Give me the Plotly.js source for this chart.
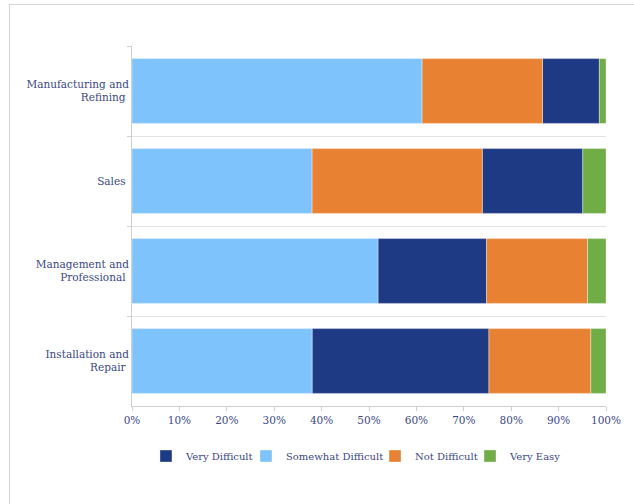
<!DOCTYPE html>
<html>
<head>
<meta charset="utf-8">
<script src="https://cdn.plot.ly/plotly-3.0.1.min.js"></script>
<style>
  html, body { margin: 0; padding: 0; background: #fff; }
  #wrap { position: relative; width: 634px; height: 504px; overflow: hidden; }
  #frame { position: absolute; left: 9px; top: 4px; width: 700px; height: 600px;
           border-left: 1px solid #d6d6d6; border-top: 1px solid #d6d6d6; }
  #chart { position: absolute; left: 0; top: 0; width: 634px; height: 504px; }
</style>
</head>
<body>
<div id="wrap"><div id="frame"></div><div id="chart"></div></div>
<script>
const categories = ['Manufacturing and<br>Refining', 'Sales', 'Management and<br>Professional', 'Installation and<br>Repair'];
const seriesNames = ['Very Difficult', 'Somewhat Difficult', 'Not Difficult', 'Very Easy'];
const veryDifficult = [12.0, 21.2, 22.9, 37.3];
const somewhatDifficult = [61.2, 38.0, 51.9, 38.0];
const notDifficult = [25.4, 35.9, 21.3, 21.5];
const veryEasy = [1.4, 4.9, 3.9, 3.2];
const xTickVals = [0, 10, 20, 30, 40, 50, 60, 70, 80, 90, 100];
const xTickLabels = ['0%', '10%', '20%', '30%', '40%', '50%', '60%', '70%', '80%', '90%', '100%'];

const seriesValues = [veryDifficult, somewhatDifficult, notDifficult, veryEasy];
const colors = ['#1f3a85', '#7fc3fd', '#e88232', '#70ad47'];

// Within each bar, segments are stacked largest first.
const bases = seriesValues.map(() => categories.map(() => 0));
categories.forEach((c, ci) => {
  const order = seriesValues.map((s, si) => si).sort((a, b) => seriesValues[b][ci] - seriesValues[a][ci]);
  let acc = 0;
  order.forEach(si => { bases[si][ci] = acc; acc += seriesValues[si][ci]; });
});

const textColor = '#3a4888';
const font = { family: 'DejaVu Serif, serif', size: 10.5, color: textColor };
const legendFont = { family: 'DejaVu Serif, serif', size: 10, color: textColor };

const legendIds = ['legend', 'legend2', 'legend3', 'legend4'];
const legendX = [0.0295, 0.2405, 0.5127, 0.7131];

const traces = seriesValues.map((vals, si) => ({
  type: 'bar',
  orientation: 'h',
  name: seriesNames[si],
  legend: legendIds[si],
  y: categories,
  x: vals,
  base: bases[si],
  marker: { color: colors[si], line: { color: 'rgba(255,255,255,0.45)', width: 0.8 } },
  hoverinfo: 'name+x'
}));

const layout = {
  width: 634, height: 504,
  paper_bgcolor: 'rgba(0,0,0,0)', plot_bgcolor: 'rgba(0,0,0,0)',
  margin: { l: 132, r: 28, t: 46, b: 98 },
  font: font,
  barmode: 'overlay',
  bargap: 0.28,
  showlegend: true,
  xaxis: {
    range: [0, 100], tickvals: xTickVals, ticktext: xTickLabels,
    showgrid: false, zeroline: false,
    showline: true, linecolor: '#cfcfcf', linewidth: 1,
    ticks: 'outside', ticklen: 4, tickcolor: '#cfcfcf',
    tickfont: font, fixedrange: true
  },
  yaxis: {
    type: 'category', autorange: 'reversed',
    tickson: 'boundaries', ticks: 'outside', ticklen: 4, tickcolor: '#cfcfcf',
    showgrid: true, gridcolor: '#e3e3e3', gridwidth: 1,
    showline: true, linecolor: '#cfcfcf', linewidth: 1,
    tickfont: font, ticksuffix: ' ', fixedrange: true
  }
};
legendIds.forEach((id, i) => {
  layout[id] = { orientation: 'h', x: legendX[i], xanchor: 'left', y: -0.139, yanchor: 'middle',
                 font: legendFont, itemwidth: 30, bgcolor: 'rgba(0,0,0,0)' };
});

Plotly.newPlot('chart', traces, layout, { displayModeBar: false, staticPlot: true });
</script>
</body>
</html>
